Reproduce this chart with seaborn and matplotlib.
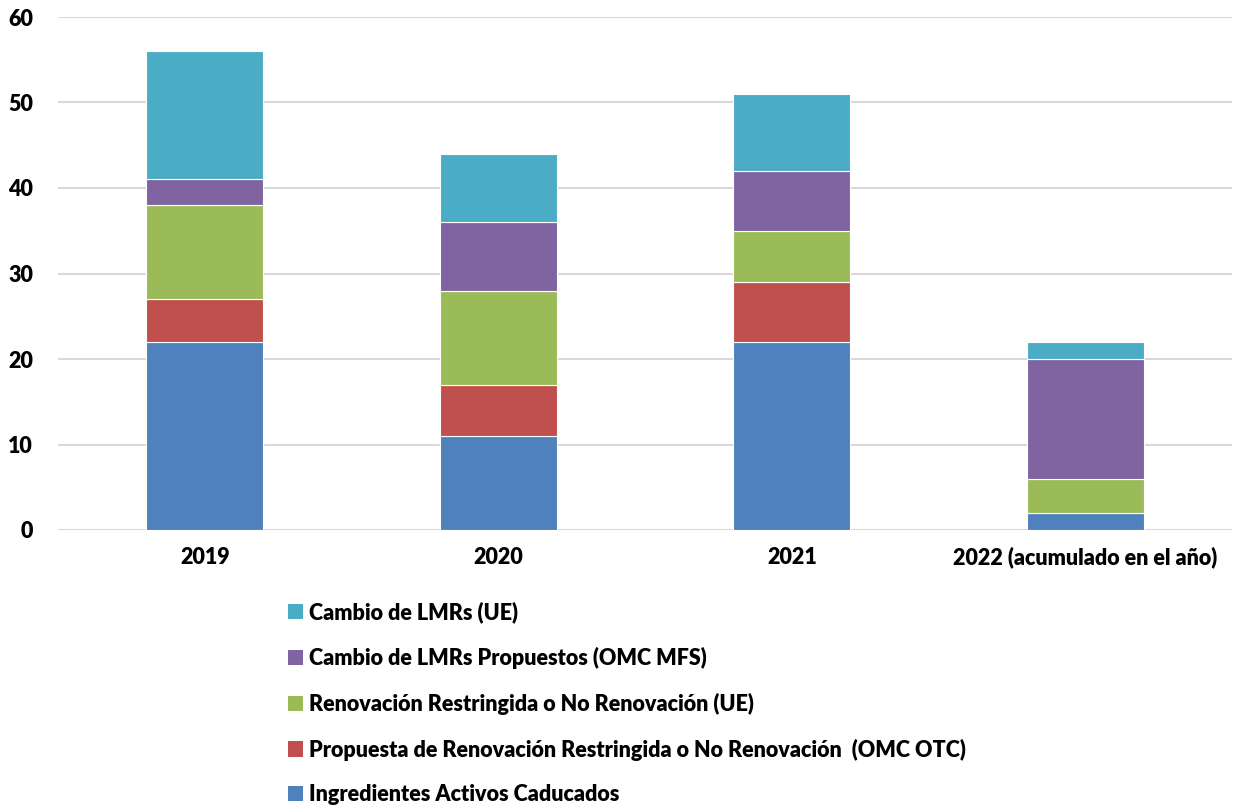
import matplotlib
matplotlib.use("Agg")
import matplotlib.pyplot as plt
import seaborn as sns
import pandas as pd
import numpy as np
from matplotlib.patches import Patch

categories = ["2019", "2020", "2021", "2022 (acumulado en el año)"]
series_names = [
    "Ingredientes Activos Caducados",
    "Propuesta de Renovación Restringida o No Renovación  (OMC OTC)",
    "Renovación Restringida o No Renovación (UE)",
    "Cambio de LMRs Propuestos (OMC MFS)",
    "Cambio de LMRs (UE)",
]
ingredientes = [22, 11, 22, 2]
propuesta_renov = [5, 6, 7, 0]
renov_ue = [11, 11, 6, 4]
lmr_propuestos = [3, 8, 7, 14]
lmr_ue = [15, 8, 9, 2]
colors = ["#4F81BD", "#C0504D", "#9BBB59", "#8064A2", "#4BACC6"]

series = [ingredientes, propuesta_renov, renov_ue, lmr_propuestos, lmr_ue]

sns.set_theme(style="white")
plt.rcParams['font.family'] = ['Lato', 'DejaVu Sans']
FW = "heavy"
FS = 15.5

fig = plt.figure(figsize=(12.37, 8.08), dpi=100)
ax = fig.add_axes([58/1237, 1-530/808, 1174/1237, 513/808])

bottom = np.zeros(len(categories))
for name, vals, col in zip(series_names, series, colors):
    df = pd.DataFrame({"cat": categories, "val": vals})
    sns.barplot(data=df, x="cat", y="val", color=col, width=0.4,
                bottom=bottom, ax=ax, edgecolor="white", linewidth=0.8,
                saturation=1, zorder=3)
    bottom = bottom + np.array(vals)

ax.set_ylim(0, 60)
ax.set_xlim(-0.5, 3.5)
ax.set_yticks(range(0, 61, 10))
ax.yaxis.grid(True, color="#D9D9D9", linewidth=1.5, zorder=0)
ax.set_axisbelow(True)
for s in ax.spines.values():
    s.set_visible(False)
ax.set_xlabel("")
ax.set_ylabel("")
ax.tick_params(axis="both", length=0, labelsize=FS, labelcolor="black")
ax.tick_params(axis="x", pad=12)
ax.tick_params(axis="y", pad=18)
for lab in ax.get_xticklabels() + ax.get_yticklabels():
    lab.set_fontweight(FW)

handles = [Patch(facecolor=c, edgecolor="none") for c in colors][::-1]
labels = series_names[::-1]
fig.legend(handles, labels, loc="upper left",
           bbox_to_anchor=(269/1237, 1-582/808), frameon=False,
           prop={"weight": FW, "size": FS}, labelspacing=1.1,
           handlelength=0.7, handleheight=0.7, handletextpad=0.25,
           labelcolor="black")

fig.savefig("out.png", dpi=100)
